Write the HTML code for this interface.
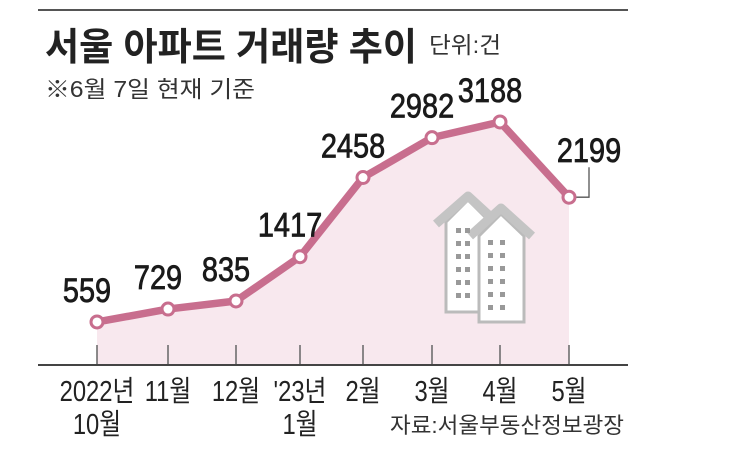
<!DOCTYPE html>
<html><head><meta charset="utf-8"><style>
body{margin:0;background:#fff;}
svg{display:block;font-family:"Liberation Sans","Noto Sans CJK KR",sans-serif;}
</style></head><body>
<svg id="c" width="743" height="457" viewBox="0 0 743 457">
<line x1="38" y1="10" x2="628" y2="10" stroke="#555" stroke-width="2"/>
<text x="45" y="60" font-size="38" font-weight="bold" fill="#222" textLength="372" lengthAdjust="spacingAndGlyphs">서울 아파트 거래량 추이</text>
<text x="429" y="53" font-size="23" fill="#333" textLength="72" lengthAdjust="spacingAndGlyphs">단위:건</text>
<text x="45" y="97" font-size="23" fill="#333" textLength="210" lengthAdjust="spacingAndGlyphs">※6월 7일 현재 기준</text>
<g id="plot"></g>
<line x1="38" y1="365" x2="628" y2="365" stroke="#444" stroke-width="2"/>
<text x="624" y="433" font-size="22" text-anchor="end" fill="#333" textLength="234" lengthAdjust="spacingAndGlyphs">자료:서울부동산정보광장</text>
</svg>
<script>
const categories=["2022년|10월","11월","12월","'23년|1월","2월","3월","4월","5월"];
const values=[559,729,835,1417,2458,2982,3188,2199];
const xs=[97,168,236,300,363,432,500,569];
const ns="http://www.w3.org/2000/svg";
const g=document.getElementById('plot');
function y(v){return 364.5-v*(200/2629);}
function x(i){return xs[i];}
function mk(t,a){const e=document.createElementNS(ns,t);for(const k in a)e.setAttribute(k,a[k]);g.appendChild(e);return e;}
function condense(t,f){const w=t.getComputedTextLength();t.setAttribute('textLength',(w*f).toFixed(1));t.setAttribute('lengthAdjust','spacingAndGlyphs');}
let d="M"+x(0)+",365";values.forEach((v,i)=>d+=" L"+x(i)+","+y(v));d+=" L"+x(values.length-1)+",365 Z";
const area=mk('path',{d:d,fill:'#f8e8ee'});


const b=mk('g',{});


function bp(t,a){const e=document.createElementNS(ns,t);for(const k in a)e.setAttribute(k,a[k]);b.appendChild(e);return e;}
bp('path',{d:"M446,312 V222 L468,200 L490,222 V312 Z",fill:'#fff',stroke:'#bbb','stroke-width':3});
bp('path',{d:"M436,224 L468,196 L492,218",fill:'none',stroke:'#c4c4c4','stroke-width':9,'stroke-linejoin':'round'});
bp('path',{d:"M479,322 V236 L501,214 L524,236 V322 Z",fill:'#fff',stroke:'#bbb','stroke-width':3});
bp('path',{d:"M470,236 L501,208 L532,236",fill:'none',stroke:'#c4c4c4','stroke-width':9,'stroke-linejoin':'round'});
for(let r=0;r<6;r++){for(let c=0;c<2;c++){bp('rect',{x:456+c*9,y:228+r*13,width:5,height:5,fill:'#999'});bp('rect',{x:488+c*12,y:240+r*13,width:5,height:5,fill:'#999'});}}
values.forEach((v,i)=>{
 const t=mk('line',{x1:x(i),y1:345,x2:x(i),y2:365,stroke:'#666','stroke-width':1.5});
 
 
});
let p="";values.forEach((v,i)=>p+=(i?" L":"M")+x(i)+","+y(v));
const line=mk('path',{d:p,fill:'none',stroke:'#c86e8e','stroke-width':7.5,'stroke-linejoin':'round'});


const last=values.length-1;
const ld=mk('path',{d:`M${x(last)+7},${y(values[last])} H${x(last)+20} V${y(values[last])-30}`,fill:'none',stroke:'#555','stroke-width':1.3});


values.forEach((v,i)=>{
 const c=mk('circle',{cx:x(i),cy:y(v),r:6,fill:'#fff',stroke:'#c86e8e','stroke-width':3});
 
 
 const lx=i===last?x(i)+20:x(i)-10, ly=i===last?y(v)-35:y(v)-20;
 const t=mk('text',{x:lx,y:ly,'font-size':34,'text-anchor':'middle',fill:'#1a1a1a',stroke:'#1a1a1a','stroke-width':0.8});
 t.textContent=v;
 
 
 condense(t,0.85);
 categories[i].split('|').forEach((s,j)=>{
  const tl=mk('text',{x:x(i),y:401+j*33,'font-size':29,'text-anchor':'middle',fill:'#222'});
  tl.textContent=s;
  
  
  condense(tl,0.82);
 });
});
</script>
</body></html>
